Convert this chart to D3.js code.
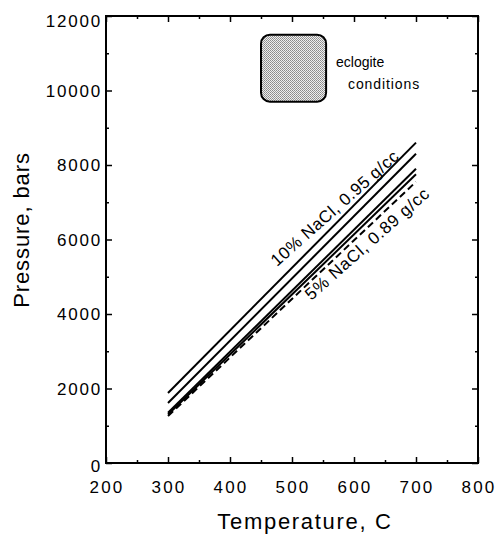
<!DOCTYPE html>
<html>
<head>
<meta charset="utf-8">
<script src="https://cdn.jsdelivr.net/npm/d3@7"></script>
<style>
  body { margin: 0; background: #fff; }
  text { font-family: "Liberation Sans", Arial, sans-serif; fill: #000; }
</style>
</head>
<body>
<svg id="chart" width="496" height="536"></svg>
<script>
// isochores, pressure (bars) vs temperature (C)
const temps = [300, 700]
const line10a = [1880, 8600]
const line10b = [1610, 8300]
const line5a = [1350, 7900]
const line5b = [1300, 7750]
const line5dash = [1260, 7550]

const eclogiteT = [450, 555]
const eclogiteP = [9700, 11500]

const xTicks = [200, 300, 400, 500, 600, 700, 800]
const yTicks = [0, 2000, 4000, 6000, 8000, 10000, 12000]

const svg = d3.select('#chart')
const mLeft = 106, mRight = 478, mTop = 16, mBottom = 463

const x = d3.scaleLinear().domain([200, 800]).range([mLeft, mRight])
const y = d3.scaleLinear().domain([0, 12000]).range([mBottom, mTop])

// stipple for the eclogite field
const defs = svg.append('defs')
const pat = defs.append('pattern')
    .attr('id', 'stipple')
    .attr('width', 2).attr('height', 2)
    .attr('patternUnits', 'userSpaceOnUse')
pat.append('rect').attr('width', 2).attr('height', 2).attr('fill', '#efefef')
pat.append('rect').attr('width', 1).attr('height', 1).attr('fill', '#8a8a8a')
pat.append('rect').attr('x', 1).attr('y', 1).attr('width', 1).attr('height', 1).attr('fill', '#9a9a9a')

// frame
svg.append('rect')
    .attr('x', mLeft).attr('y', mTop)
    .attr('width', mRight - mLeft).attr('height', mBottom - mTop)
    .attr('fill', 'none')
    .attr('stroke', '#000')
    .attr('stroke-width', 2)

// ticks inward on all sides
const xMinor = d3.range(250, 800, 100)
const yMinor = d3.range(1000, 12000, 2000)

svg.append('g').attr('transform', `translate(0,${mBottom})`)
    .call(d3.axisBottom(x).tickValues(xTicks).tickSize(-6).tickFormat(''))
svg.append('g').attr('transform', `translate(0,${mBottom})`)
    .call(d3.axisBottom(x).tickValues(xMinor).tickSize(-3).tickFormat(''))
svg.append('g').attr('transform', `translate(0,${mTop})`)
    .call(d3.axisTop(x).tickValues(xTicks).tickSize(-6).tickFormat(''))
svg.append('g').attr('transform', `translate(0,${mTop})`)
    .call(d3.axisTop(x).tickValues(xMinor).tickSize(-3).tickFormat(''))
svg.append('g').attr('transform', `translate(${mLeft},0)`)
    .call(d3.axisLeft(y).tickValues(yTicks).tickSize(-6).tickFormat(''))
svg.append('g').attr('transform', `translate(${mLeft},0)`)
    .call(d3.axisLeft(y).tickValues(yMinor).tickSize(-3).tickFormat(''))
svg.append('g').attr('transform', `translate(${mRight},0)`)
    .call(d3.axisRight(y).tickValues(yTicks).tickSize(-6).tickFormat(''))
svg.append('g').attr('transform', `translate(${mRight},0)`)
    .call(d3.axisRight(y).tickValues(yMinor).tickSize(-3).tickFormat(''))

svg.selectAll('.domain').remove()
svg.selectAll('.tick line').attr('stroke', '#000').attr('stroke-width', 1.5)

// tick labels
svg.append('g').selectAll('text')
    .data(xTicks)
    .join('text')
    .attr('x', d => x(d) + 1)
    .attr('y', 493)
    .attr('text-anchor', 'middle')
    .attr('font-size', 17)
    .attr('letter-spacing', 2.2)
    .text(d => d)

svg.append('g').selectAll('text')
    .data(yTicks)
    .join('text')
    .attr('x', 102)
    .attr('y', d => y(d) + 6 + (d == 0 ? 3 : d == 12000 ? 5 : 0))
    .attr('text-anchor', 'end')
    .attr('font-size', 17)
    .attr('letter-spacing', 1.8)
    .text(d => d)

// axis titles
svg.append('text')
    .attr('x', 305).attr('y', 529)
    .attr('text-anchor', 'middle')
    .attr('font-size', 22)
    .attr('letter-spacing', 1.7)
    .text('Temperature,  C')

svg.append('text')
    .attr('transform', 'translate(29,230) rotate(-90)')
    .attr('text-anchor', 'middle')
    .attr('font-size', 22)
    .attr('letter-spacing', 0.9)
    .text('Pressure, bars')

// eclogite field
svg.append('rect')
    .attr('x', x(eclogiteT[0]))
    .attr('y', y(eclogiteP[1]))
    .attr('width', x(eclogiteT[1]) - x(eclogiteT[0]))
    .attr('height', y(eclogiteP[0]) - y(eclogiteP[1]))
    .attr('rx', 9).attr('ry', 9)
    .attr('fill', 'url(#stipple)')
    .attr('stroke', '#000')
    .attr('stroke-width', 2)

svg.append('text')
    .attr('x', 336).attr('y', 67)
    .attr('font-size', 14)
    .text('eclogite')
svg.append('text')
    .attr('x', 348).attr('y', 89)
    .attr('font-size', 14)
    .attr('letter-spacing', 0.9)
    .text('conditions')

// isochores
const series = [
    { p: line10a, dash: null },
    { p: line10b, dash: null },
    { p: line5a, dash: null },
    { p: line5b, dash: null },
    { p: line5dash, dash: '7,4' }
]
const line = d3.line()
    .x(d => x(d[0]))
    .y(d => y(d[1]))

svg.append('g').selectAll('path')
    .data(series)
    .join('path')
    .attr('d', s => line(temps.map((t, i) => [t, s.p[i]])))
    .attr('fill', 'none')
    .attr('stroke', '#000')
    .attr('stroke-width', 2)
    .attr('stroke-dasharray', s => s.dash)

// line labels
svg.append('text')
    .attr('transform', `translate(${x(476)},${y(5260)}) rotate(-41.6)`)
    .attr('font-size', 17)
    .attr('letter-spacing', 0.5)
    .text('10% NaCl, 0.95 g/cc')
svg.append('text')
    .attr('transform', `translate(${x(531)},${y(4350)}) rotate(-41.5)`)
    .attr('font-size', 17)
    .attr('letter-spacing', 0.8)
    .text('5% NaCl, 0.89 g/cc')
</script>
</body>
</html>
